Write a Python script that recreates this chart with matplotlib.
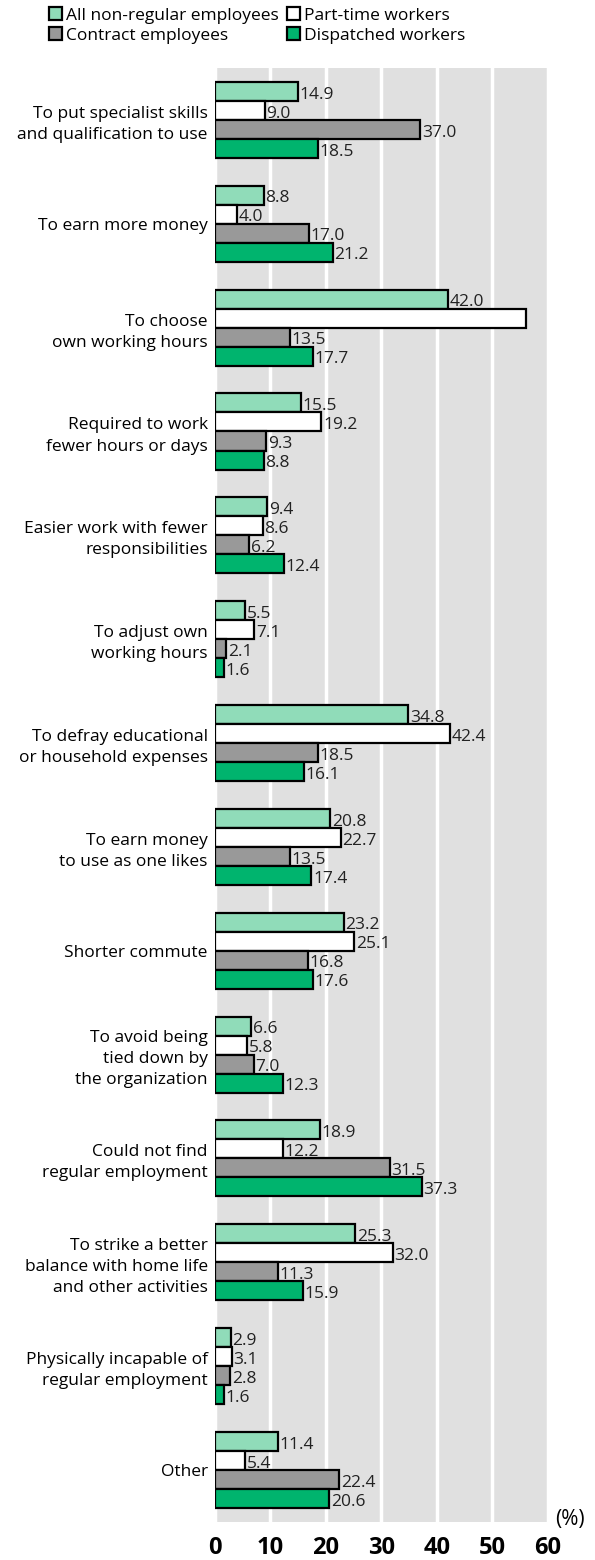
import numpy as np
import matplotlib
matplotlib.use("Agg")
from matplotlib import pyplot as plt
from matplotlib.patches import Patch

plt.rcParams['font.family'] = ['Open Sans', 'DejaVu Sans']

categories = [
    "To put specialist skills\nand qualification to use",
    "To earn more money",
    "To choose\nown working hours",
    "Required to work\nfewer hours or days",
    "Easier work with fewer\nresponsibilities",
    "To adjust own\nworking hours",
    "To defray educational\nor household expenses",
    "To earn money\nto use as one likes",
    "Shorter commute",
    "To avoid being\ntied down by\nthe organization",
    "Could not find\nregular employment",
    "To strike a better\nbalance with home life\nand other activities",
    "Physically incapable of\nregular employment",
    "Other",
]
series_names = ["All non-regular employees", "Part-time workers",
                "Contract employees", "Dispatched workers"]
all_nonreg = [14.9, 8.8, 42.0, 15.5, 9.4, 5.5, 34.8, 20.8, 23.2, 6.6, 18.9, 25.3, 2.9, 11.4]
part_time = [9.0, 4.0, 56.0, 19.2, 8.6, 7.1, 42.4, 22.7, 25.1, 5.8, 12.2, 32.0, 3.1, 5.4]
contract = [37.0, 17.0, 13.5, 9.3, 6.2, 2.1, 18.5, 13.5, 16.8, 7.0, 31.5, 11.3, 2.8, 22.4]
dispatched = [18.5, 21.2, 17.7, 8.8, 12.4, 1.6, 16.1, 17.4, 17.6, 12.3, 37.3, 15.9, 1.6, 20.6]
# the part-time value for "To choose own working hours" has no printed label
show_label = [[True] * 14, [True, True, False] + [True] * 11, [True] * 14, [True] * 14]
colors = ["#90dcb9", "#ffffff", "#999999", "#00b46e"]

fig = plt.figure(figsize=(5.95, 15.6), dpi=100)
ax = fig.add_axes([0.361, 0.0244, 0.56, 0.9320])
ax.set_facecolor("#e0e0e0")

y = np.arange(len(categories))
h = 0.183
data = [all_nonreg, part_time, contract, dispatched]
for k, (vals, col) in enumerate(zip(data, colors)):
    yy = y + (k - 1.5) * h
    ax.barh(yy, vals, height=h, color=col, edgecolor="black", linewidth=1.6, zorder=3)
    for yi, v, s in zip(yy, vals, show_label[k]):
        if s:
            ax.text(v + 0.3, yi + 0.03, "%.1f" % v, va="center", ha="left",
                    fontsize=12.5, color="#222222", zorder=4)

ax.set_xlim(0, 60)
ax.set_ylim(len(categories) - 0.5, -0.5)
ax.set_xticks(np.arange(0, 61, 10))
ax.xaxis.grid(True, color="white", linewidth=2.5, zorder=1)
ax.set_axisbelow(True)
for s in ax.spines.values():
    s.set_visible(False)
ax.tick_params(axis="x", length=0, pad=10, labelsize=17)
for lbl in ax.get_xticklabels():
    lbl.set_fontweight("bold")
ax.set_yticks(y)
ax.set_yticklabels(categories, fontsize=12.5, linespacing=1.42)
ax.tick_params(axis="y", length=0, pad=5)

fig.text(0.958, 0.026, "(%)", fontsize=15, ha="center", va="center")

# legend is filled column-wise, so reorder to get the reference's rows
order = [0, 2, 1, 3]
handles = [Patch(facecolor=colors[i], edgecolor="black", linewidth=1.6) for i in order]
fig.legend(handles, [series_names[i] for i in order], loc="upper left",
           bbox_to_anchor=(0.065, 1.002), ncol=2, frameon=False, fontsize=12.5,
           handlelength=0.75, handleheight=0.75, handletextpad=0.2,
           columnspacing=0.5, labelspacing=0.2, borderaxespad=0.2)

fig.savefig("out.png", dpi=100)
